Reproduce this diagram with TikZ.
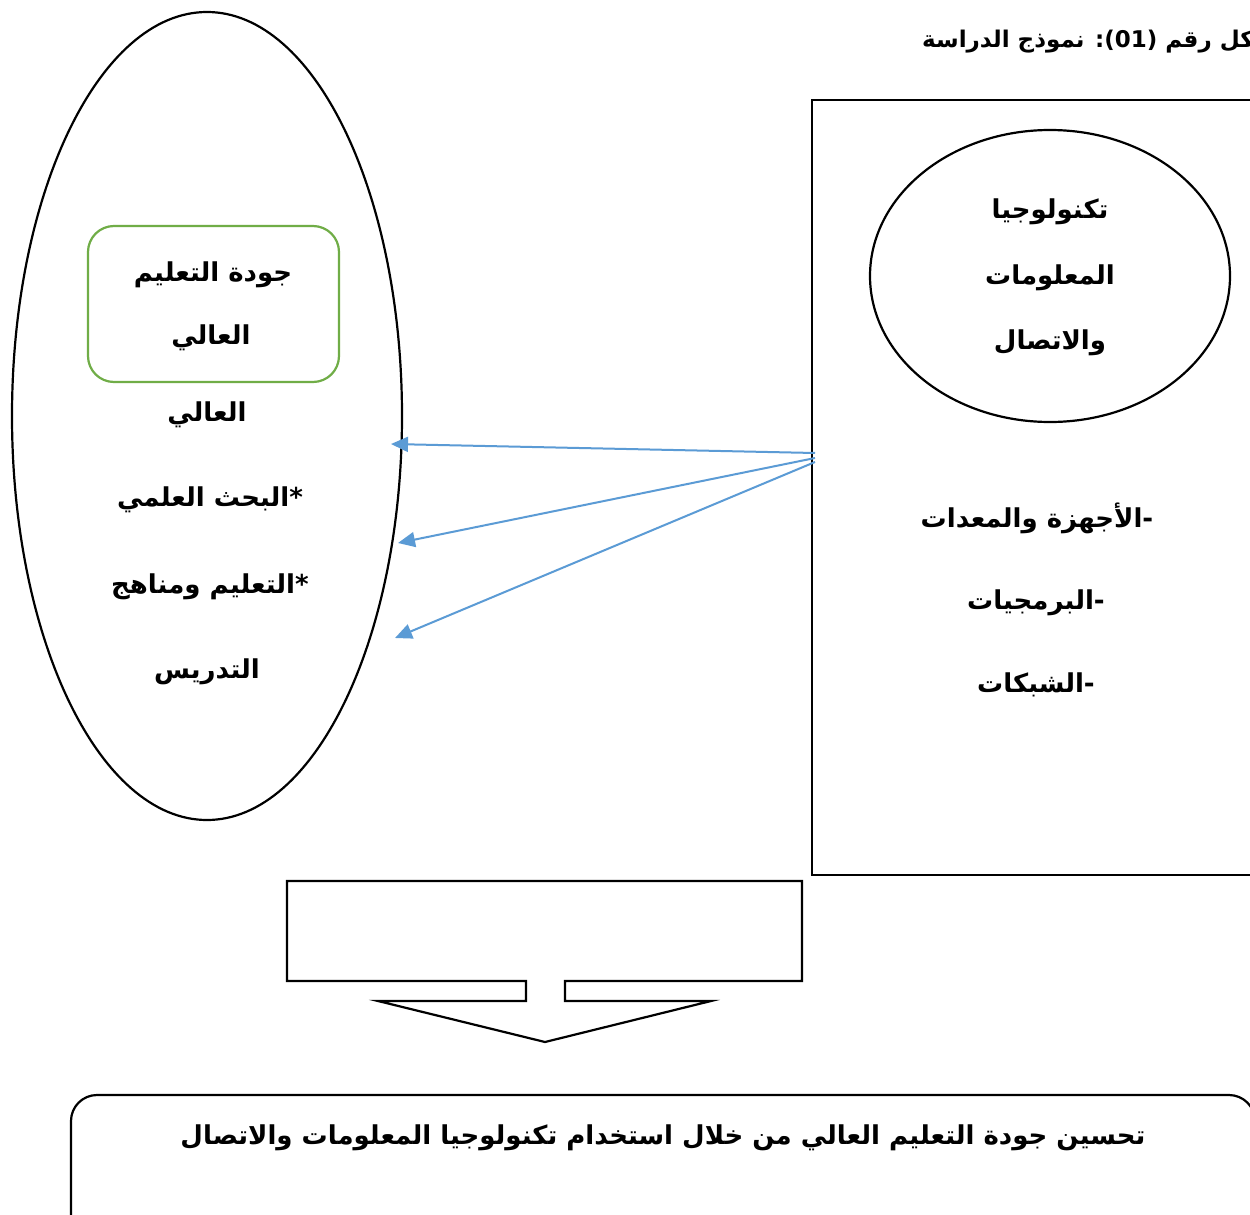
\documentclass[tikz,border=0pt]{standalone}
\usepackage{fontspec}
\usetikzlibrary{shapes.geometric,arrows.meta}
\TeXXeTstate=1
\newfontfamily\arabicfont[Script=Arabic]{DejaVu Sans}
\definecolor{arrblue}{HTML}{5B9BD5}
\definecolor{boxgreen}{HTML}{70AD47}
\tikzset{
  ar/.style={font=\arabicfont\bfseries\fontsize{26}{30}\selectfont, inner sep=0pt, anchor=center},
  outl/.style={draw=black, line width=2.2pt},
  conn/.style={draw=arrblue, line width=2pt, -{Triangle[length=17pt,width=15pt]}}
}
\begin{document}
\begin{tikzpicture}[x=1pt,y=-1pt]
\useasboundingbox (0,0) rectangle (1250,1215);
\clip (0,0) rectangle (1250,1215);
\fill[white] (0,0) rectangle (1250,1215);

% title (clipped at the right edge, as in the reference)
\node[ar, anchor=west, font=\arabicfont\bfseries\fontsize{23}{27}\selectfont] (title) at (922,42) {\beginR الشكل رقم (01): نموذج الدراسة\endR};

% left ellipse
\node[outl, ellipse, minimum width=390pt, minimum height=808pt, inner sep=0pt] (bigell) at (207,416) {};
\node[draw=boxgreen, line width=2.2pt, rounded corners=26pt, minimum width=251pt, minimum height=156pt, inner sep=0pt] (greenbox) at (213.5,304) {};
\node[ar] (g1) at (213,275) {\beginR جودة التعليم\endR};
\node[ar] (g2) at (211,338) {\beginR العالي\endR};
\node[ar] (l1) at (207,415) {\beginR العالي\endR};
\node[ar] (l2) at (210,500) {\beginR *البحث العلمي\endR};
\node[ar] (l3) at (210,587) {\beginR *التعليم ومناهج\endR};
\node[ar] (l4) at (207,672) {\beginR التدريس\endR};

% right box
\node[outl, rectangle, minimum width=450pt, minimum height=775pt, inner sep=0pt] (rbox) at (1037,487.5) {};
\node[outl, ellipse, minimum width=360pt, minimum height=292pt, inner sep=0pt] (circ) at (1050,276) {};
\node[ar] (c1) at (1050,212) {\beginR تكنولوجيا\endR};
\node[ar] (c2) at (1050,278) {\beginR المعلومات\endR};
\node[ar] (c3) at (1050,343) {\beginR والاتصال\endR};
\node[ar] (r1) at (1037,518) {\beginR -الأجهزة والمعدات\endR};
\node[ar] (r2) at (1036,603) {\beginR -البرمجيات\endR};
\node[ar] (r3) at (1036,685) {\beginR -الشبكات\endR};

% arrows
\coordinate (s1) at (815,453);
\coordinate (s2) at (815,458);
\coordinate (s3) at (815,462);
\coordinate (e1) at (391,444);
\coordinate (e2) at (398,543);
\coordinate (e3) at (395,638);
\draw[conn] (s1) -- (e1);
\draw[conn] (s2) -- (e2);
\draw[conn] (s3) -- (e3);

% down arrow callout
\draw[outl, line join=miter] (287,881) -- (802,881) -- (802,981) -- (565,981) -- (565,1001) -- (711,1001) -- (545,1042) -- (378,1001) -- (526,1001) -- (526,981) -- (287,981) -- cycle;

% bottom box
\node[outl, rectangle, rounded corners=26pt, minimum width=1184pt, minimum height=150pt, inner sep=0pt] (bottom) at (663,1170) {};
\node[ar] (bt) at (663,1138) {\beginR تحسين جودة التعليم العالي من خلال استخدام تكنولوجيا المعلومات والاتصال\endR};
\end{tikzpicture}
\end{document}
